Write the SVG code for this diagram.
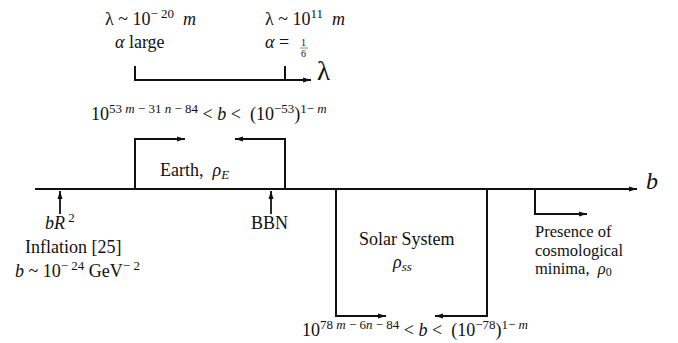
<svg xmlns="http://www.w3.org/2000/svg" width="678" height="343" viewBox="0 0 678 343">
<defs>
<marker id="ah" markerWidth="9" markerHeight="6" refX="8" refY="3" orient="auto" markerUnits="userSpaceOnUse">
<path d="M0,0.5 L8,3 L0,5.5 z" fill="#111"/>
</marker>
<style>
.ln{fill:none;stroke:#111;stroke-width:2}
.t{font-family:"Liberation Serif","Times New Roman",serif;font-size:18px;fill:#111}
.s{font-size:13px}
.f{font-size:10px}
.i{font-style:italic}
.m{font-size:16.5px}
</style>
</defs>
<rect width="678" height="343" fill="#fff"/>
<g id="connectors">
<path class="ln" d="M135,66 V80 H311" marker-end="url(#ah)"/>
<path class="ln" d="M285,66 V80"/>
<path class="ln" d="M35,189 H637" marker-end="url(#ah)"/>
<path class="ln" d="M135,189 V139 H185" marker-end="url(#ah)"/>
<path class="ln" d="M285,189 V139 H235" marker-end="url(#ah)"/>
<path class="ln" d="M60,214 V191" marker-end="url(#ah)" style="stroke-width:1.8"/>
<path class="ln" d="M271,214 V191" marker-end="url(#ah)" style="stroke-width:1.8"/>
<path class="ln" d="M336,189 V316 H386" marker-end="url(#ah)"/>
<path class="ln" d="M487,189 V316 H435" marker-end="url(#ah)"/>
<path class="ln" d="M535,189 V214 H587" marker-end="url(#ah)"/>
</g>
<g id="lambda-axis">
<text class="t" x="105" y="25">λ ~ 10<tspan class="s" dy="-7">− 20</tspan><tspan class="i" dy="7">&#160;&#160;m</tspan></text>
<text class="t" x="115" y="48"><tspan class="i">α</tspan> large</text>
<text class="t" x="265" y="25">λ ~ 10<tspan class="s" dy="-7">11</tspan><tspan class="i" dy="7">&#160;&#160;m</tspan></text>
<text class="t" x="265" y="48"><tspan class="i">α</tspan> = </text>
<text class="t f" x="301" y="46">1</text>
<line x1="300" y1="48" x2="308" y2="48" stroke="#111" stroke-width="0.5"/>
<text class="t f" x="301" y="57">6</text>
<text class="t" x="317" y="80" style="font-size:27px">λ</text>
</g>
<g id="earth">
<text class="t" x="91" y="120">10<tspan class="s" dy="-7">53</tspan><tspan class="s i">&#160;m</tspan><tspan class="s"> − 31</tspan><tspan class="s i">&#160;n</tspan><tspan class="s"> − 84</tspan><tspan dy="7">&#160;&lt; </tspan><tspan class="i">b</tspan> &lt;&#160;&#160;(10<tspan class="s" dy="-7">−53</tspan><tspan dy="7">)</tspan><tspan class="s" dy="-7">1− </tspan><tspan class="s i">m</tspan></text>
<text class="t" x="160" y="176">Earth,&#160;&#160;<tspan class="i">ρ</tspan><tspan class="i" style="font-size:13px" dy="3">E</tspan></text>
</g>
<g id="b-axis">
<text class="t i" x="646" y="189" style="font-size:24px">b</text>
</g>
<g id="inflation">
<text class="t" x="45" y="229"><tspan class="i">bR</tspan><tspan class="s" dy="-7">&#160;2</tspan></text>
<text class="t" x="25" y="253">Inflation [25]</text>
<text class="t" x="15" y="277"><tspan class="i">b</tspan> ~ 10<tspan class="s" dy="-7">− 24</tspan><tspan dy="7">&#160;GeV</tspan><tspan class="s" dy="-7">− 2</tspan></text>
</g>
<g id="bbn">
<text class="t" x="251" y="229">BBN</text>
</g>
<g id="solar">
<text class="t" x="359" y="245">Solar System</text>
<text class="t" x="393" y="268"><tspan class="i">ρ</tspan><tspan class="i" style="font-size:13px" dy="3">ss</tspan></text>
<text class="t" x="302" y="336">10<tspan class="s" dy="-7">78</tspan><tspan class="s i">&#160;m</tspan><tspan class="s"> − 6</tspan><tspan class="s i">n</tspan><tspan class="s"> − 84</tspan><tspan dy="7">&#160;&lt; </tspan><tspan class="i">b</tspan> &lt;&#160;&#160;(10<tspan class="s" dy="-7">−78</tspan><tspan dy="7">)</tspan><tspan class="s" dy="-7">1− </tspan><tspan class="s i">m</tspan></text>
</g>
<g id="minima">
<text class="t m" x="535" y="237">Presence of</text>
<text class="t m" x="535" y="255.5">cosmological</text>
<text class="t m" x="535" y="274">minima,&#160;&#160;<tspan class="i">ρ</tspan><tspan style="font-size:12px" dy="2">0</tspan></text>
</g>
</svg>
